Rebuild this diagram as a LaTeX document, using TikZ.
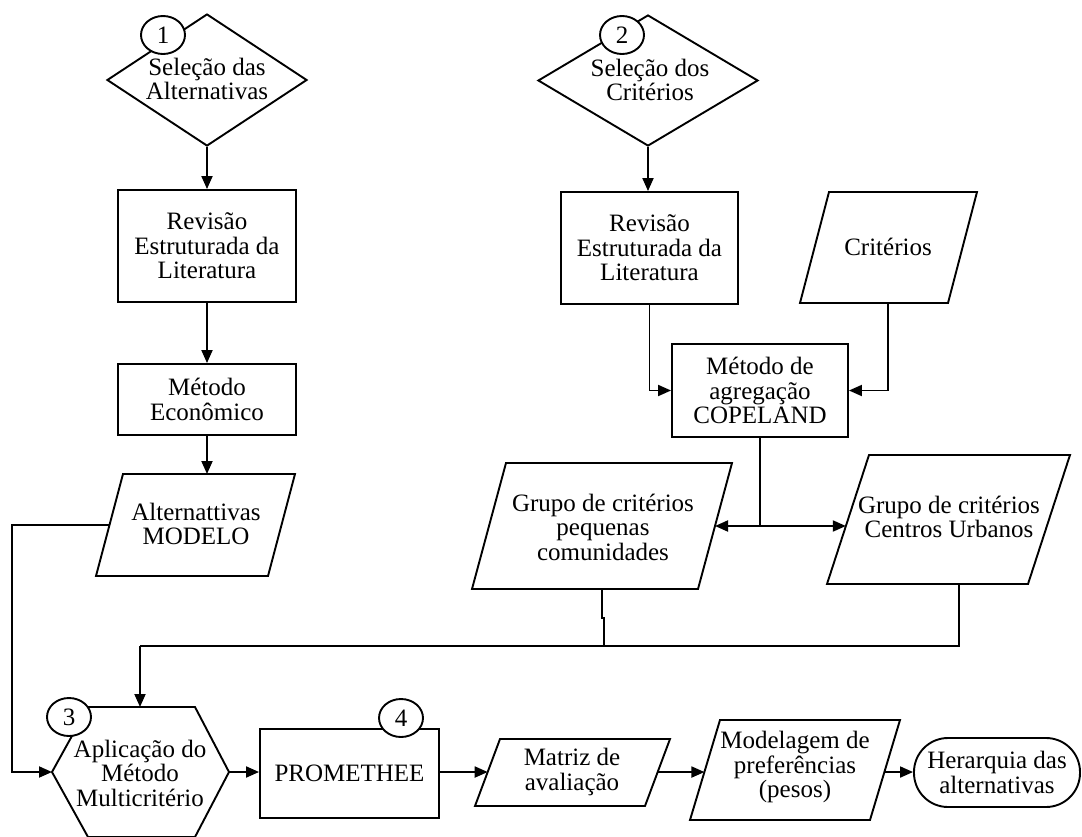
\documentclass[tikz,border=0pt]{standalone}
\usepackage{fontspec}
\setmainfont{Liberation Serif}
\usetikzlibrary{arrows.meta,shapes.geometric,calc}

\begin{document}
\begin{tikzpicture}[x=1pt,y=-1pt,line width=1.9pt,line join=miter,
  every node/.style={font=\fontsize{25}{24.5}\selectfont, text=black},
  box/.style={draw, rectangle, inner sep=0pt, align=center},
  txt/.style={align=center, inner sep=0pt},
  dec/.style={draw, diamond, inner sep=0pt},
  num/.style={draw, ellipse, fill=white, inner sep=0pt, minimum width=44pt, minimum height=38pt},
  term/.style={draw, rectangle, rounded corners=34pt, inner sep=0pt, align=center},
  arr/.style={-{Triangle[length=13pt,width=11pt]}}]

\clip (0,0) rectangle (1082,836);

% ---------- alternatives column ----------
\node[dec, minimum width=200pt, minimum height=132pt] (d1) at (207,80) {};
\node[txt] (d1t) at (207,79) {Seleção das\\Alternativas};
\node[box, minimum width=178pt, minimum height=112pt] (r1) at (207,246) {Revisão\\Estruturada da\\Literatura};
\node[box, minimum width=178pt, minimum height=71pt] (me) at (207,399.5) {Método\\Econômico};

\coordinate (alt-tl) at (123,474);
\coordinate (alt-tr) at (295,474);
\coordinate (alt-br) at (268,576);
\coordinate (alt-bl) at (96,576);
\draw (alt-tl) -- (alt-tr) -- (alt-br) -- (alt-bl) -- cycle;
\node[txt] (altt) at (196,524) {Alternattivas\\MODELO};

% ---------- criteria column ----------
\node[dec, minimum width=220pt, minimum height=131pt] (d2) at (648,80.5) {};
\node[txt] (d2t) at (650,80) {Seleção dos\\Critérios};
\node[box, minimum width=177pt, minimum height=112pt] (r2) at (649.5,248) {Revisão\\Estruturada da\\Literatura};

\coordinate (cr-tl) at (829,192);
\coordinate (cr-tr) at (977,192);
\coordinate (cr-br) at (948,303);
\coordinate (cr-bl) at (800,303);
\draw (cr-tl) -- (cr-tr) -- (cr-br) -- (cr-bl) -- cycle;
\node[txt] (crt) at (888,247) {Critérios};
\coordinate (cr-s) at (888,303);

\node[box, minimum width=176pt, minimum height=93pt] (cop) at (760,390.5) {Método de\\agregação\\COPELAND};

% criteria groups
\coordinate (gp-tl) at (506,463);
\coordinate (gp-tr) at (732,463);
\coordinate (gp-br) at (698,589);
\coordinate (gp-bl) at (472,589);
\draw (gp-tl) -- (gp-tr) -- (gp-br) -- (gp-bl) -- cycle;
\node[txt] (gpt) at (603,527) {Grupo de critérios\\pequenas\\comunidades};

\coordinate (gu-tl) at (869,455);
\coordinate (gu-tr) at (1070,455);
\coordinate (gu-br) at (1028,584);
\coordinate (gu-bl) at (827,584);
\draw (gu-tl) -- (gu-tr) -- (gu-br) -- (gu-bl) -- cycle;
\node[txt] (gut) at (949,517) {Grupo de critérios\\Centros Urbanos};

% ---------- evaluation row ----------
\coordinate (hex-w) at (52,772);
\coordinate (hex-nw) at (88,707);
\coordinate (hex-ne) at (195,707);
\coordinate (hex-e) at (229,772);
\coordinate (hex-se) at (195,837);
\coordinate (hex-sw) at (88,837);
\coordinate (hex-n) at (140,707);
\draw (hex-w) -- (hex-nw) -- (hex-ne) -- (hex-e) -- (hex-se) -- (hex-sw) -- cycle;
\node[txt] (hext) at (140,773) {Aplicação do\\Método\\Multicritério};

\node[box, minimum width=179pt, minimum height=89pt] (prom) at (349.5,773.5) {PROMETHEE};

\coordinate (mat-tl) at (500,739);
\coordinate (mat-tr) at (670,739);
\coordinate (mat-br) at (645,806);
\coordinate (mat-bl) at (475,806);
\draw (mat-tl) -- (mat-tr) -- (mat-br) -- (mat-bl) -- cycle;
\node[txt] (matt) at (572,772) {Matriz de\\avaliação};

\coordinate (mod-tl) at (720,720);
\coordinate (mod-tr) at (900,720);
\coordinate (mod-br) at (870,820);
\coordinate (mod-bl) at (690,820);
\draw (mod-tl) -- (mod-tr) -- (mod-br) -- (mod-bl) -- cycle;
\node[txt] (modt) at (795,767) {Modelagem de\\preferências\\(pesos)};

\node[term, minimum width=166pt, minimum height=69pt] (her) at (997,772.5) {Herarquia das\\alternativas};

% edge points on slanted sides
\coordinate (alt-w) at (intersection of alt-tl--alt-bl and 0,525--100,525);
\coordinate (gp-e) at (intersection of gp-tr--gp-br and 500,526--800,526);
\coordinate (gu-w) at (intersection of gu-tl--gu-bl and 700,526--1000,526);
\coordinate (mat-w) at (intersection of mat-tl--mat-bl and 400,772--700,772);
\coordinate (mat-e) at (intersection of mat-tr--mat-br and 400,772--700,772);
\coordinate (mod-w) at (intersection of mod-tl--mod-bl and 600,772--950,772);
\coordinate (mod-e) at (intersection of mod-tr--mod-br and 600,772--950,772);

% routing points
\coordinate (lbus) at (12,525);
\coordinate (split) at (760,526);
\coordinate (gp-s) at (602,589);
\coordinate (gu-s) at (959,584);
\coordinate (busr) at (959,646);
\coordinate (busl) at (140,646);

% ---------- connectors ----------
\draw[arr] (d1.south) -- (r1.north);
\draw[arr] (r1.south) -- (me.north);
\draw[arr] (me.south) -- (me.south |- alt-tl);
\draw[arr] (alt-w) -- (lbus) |- (hex-w);

\draw[arr] (d2.south) -- (d2.south |- r2.north);
\draw[arr] (r2.south) |- (cop.west);
\draw[arr] (cr-s) |- (cop.east);
\draw (cop.south) -- (split);
\draw[arr] (split) -- (gp-e);
\draw[arr] (split) -- (gu-w);

\draw (gp-s) -- ++(0,29) -- ++(2,0) -- ++(0,28);
\draw (gu-s) -- (busr) -- (busl);
\draw[arr] (busl) -- (hex-n);

\draw[arr] (hex-e) -- (hex-e -| prom.west);
\draw[arr] (mat-w -| prom.east) -- (mat-w);
\draw[arr] (mat-e) -- (mod-w);
\draw[arr] (mod-e) -- (mod-e -| her.west);

% ---------- step numbers ----------
\node[num] (c1) at (163,35) {1};
\node[num] (c2) at (622,35) {2};
\node[num] (c3) at (69,717) {3};
\node[num] (c4) at (401,718) {4};
\end{tikzpicture}
\end{document}
